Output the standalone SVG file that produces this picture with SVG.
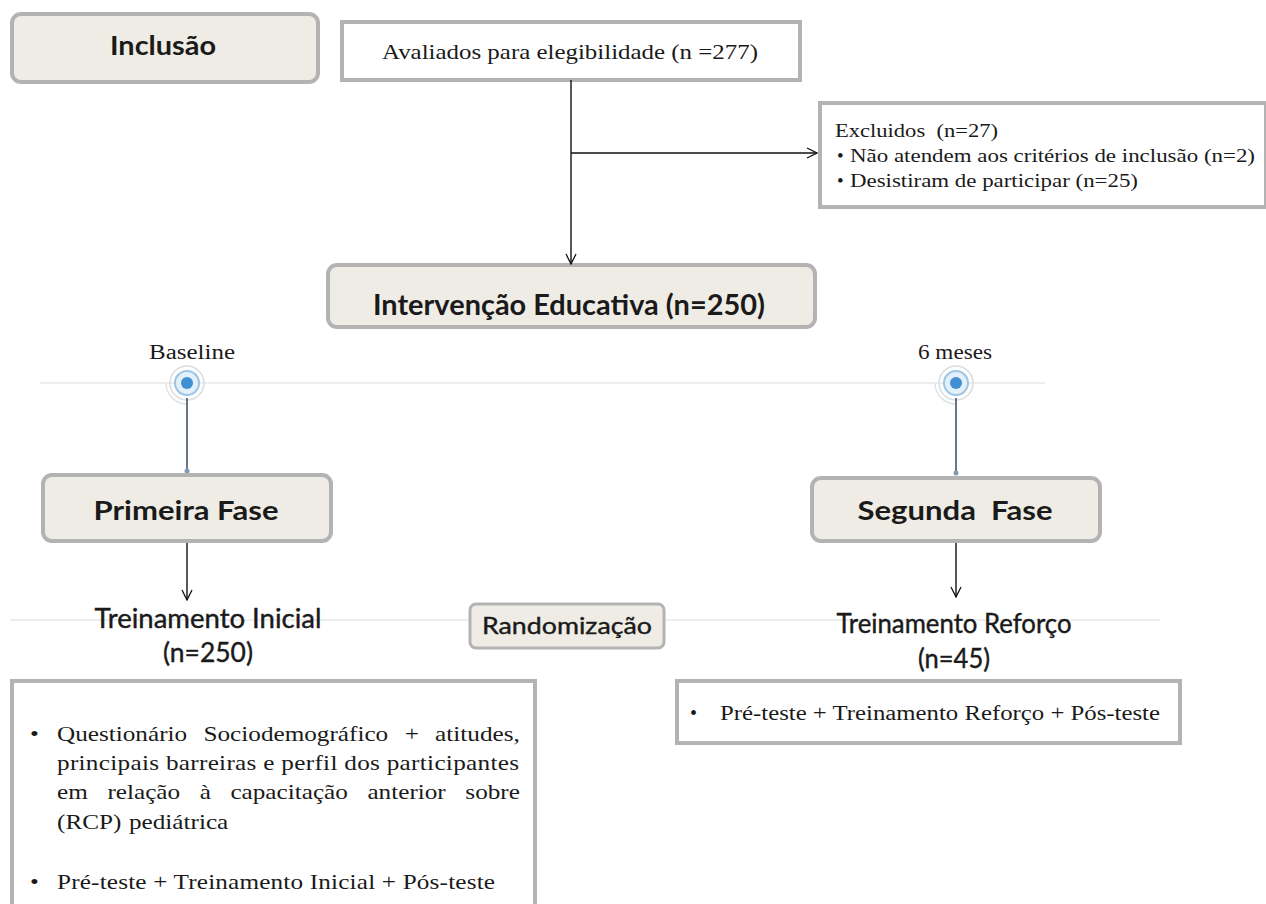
<svg xmlns="http://www.w3.org/2000/svg" width="1266" height="904" viewBox="0 0 1266 904">
<style>
.beige{fill:#eeece4;stroke:#b3b3b3;stroke-width:4}
.plain{fill:#ffffff;stroke:#b3b3b3;stroke-width:4}
.hb{font-family:Lato,"Open Sans",sans-serif;font-weight:bold;fill:#1a1a1a}
.hm{font-family:Lato,"Open Sans",sans-serif;fill:#1a1a1a;stroke:#1a1a1a;stroke-width:0.4}
.sf{font-family:"Liberation Serif","Times New Roman",serif;fill:#1a1a1a}
.conn{stroke:#111;stroke-width:1.4;fill:none}
.faint{stroke:#ededed;stroke-width:2}
.stem{stroke:#44546a;stroke-width:1.6}
</style>
<defs>
<marker id="arr" viewBox="0 0 12 12" refX="11" refY="6" markerWidth="12" markerHeight="12" markerUnits="userSpaceOnUse" orient="auto">
<path d="M1,1 L11,6 L1,11" fill="none" stroke="#111" stroke-width="1.3"/>
</marker>
</defs>
<line class="faint" x1="40" y1="383" x2="1045" y2="383"/>
<line class="faint" x1="10" y1="620" x2="1160" y2="620"/>

<g id="inclusao">
<rect class="beige" x="12" y="14" width="306" height="68" rx="9"/>
<text class="hb" x="163" y="55" font-size="26" text-anchor="middle" textLength="106" lengthAdjust="spacingAndGlyphs">Inclusão</text>
</g>
<g id="avaliados">
<rect class="plain" x="342" y="22" width="458" height="58"/>
<text class="sf" x="570" y="59" font-size="21" text-anchor="middle" textLength="376" lengthAdjust="spacingAndGlyphs">Avaliados para elegibilidade (n =277)</text>
</g>
<g id="excluidos">
<rect class="plain" x="820" y="103" width="446" height="104"/>
<text class="sf" x="835" y="137" font-size="19" textLength="163" lengthAdjust="spacingAndGlyphs" style="white-space:pre">Excluidos  (n=27)</text>
<text class="sf" x="837" y="162" font-size="19">•</text>
<text class="sf" x="850" y="162" font-size="19" textLength="405" lengthAdjust="spacingAndGlyphs">Não atendem aos critérios de inclusão (n=2)</text>
<text class="sf" x="837" y="187" font-size="19">•</text>
<text class="sf" x="850" y="187" font-size="19" textLength="288" lengthAdjust="spacingAndGlyphs">Desistiram de participar (n=25)</text>
</g>
<g id="intervencao">
<rect class="beige" x="328" y="265" width="487" height="62" rx="9"/>
<text class="hb" x="569" y="315" font-size="28" text-anchor="middle" textLength="392" lengthAdjust="spacingAndGlyphs">Intervenção Educativa (n=250)</text>
</g>

<g id="baseline">
<text class="sf" x="192" y="359" font-size="20" text-anchor="middle" textLength="86" lengthAdjust="spacingAndGlyphs">Baseline</text>
<path d="M166,383 A21,21 0 0 0 187,404" fill="none" stroke="#dde3e6" stroke-width="1.5"/>
<circle cx="187" cy="383" r="17" fill="none" stroke="#d8dde0" stroke-width="1.5"/>
<circle cx="187" cy="383" r="12" fill="#e3f0fa" stroke="#9cc4e4" stroke-width="2"/>
<circle cx="187" cy="383" r="6" fill="#3f8fd2"/>
<line class="stem" x1="187" y1="398" x2="187" y2="470"/>
<circle cx="187" cy="471" r="2.5" fill="#7f9bb5"/>
</g>
<g id="seis-meses">
<text class="sf" x="955" y="359" font-size="20" text-anchor="middle" textLength="74" lengthAdjust="spacingAndGlyphs">6 meses</text>
<path d="M935,383 A21,21 0 0 0 956,404" fill="none" stroke="#dde3e6" stroke-width="1.5"/>
<circle cx="956" cy="383" r="17" fill="none" stroke="#d8dde0" stroke-width="1.5"/>
<circle cx="956" cy="383" r="12" fill="#e3f0fa" stroke="#9cc4e4" stroke-width="2"/>
<circle cx="956" cy="383" r="6" fill="#3f8fd2"/>
<line class="stem" x1="956" y1="398" x2="956" y2="472"/>
<circle cx="956" cy="473" r="2.5" fill="#7f9bb5"/>
</g>

<g id="primeira-fase">
<rect class="beige" x="43" y="475" width="288" height="66" rx="9"/>
<text class="hb" x="186" y="520" font-size="27" text-anchor="middle" textLength="185" lengthAdjust="spacingAndGlyphs">Primeira Fase</text>
</g>
<g id="segunda-fase">
<rect class="beige" x="812" y="478" width="288" height="63" rx="9"/>
<text class="hb" x="955" y="520" font-size="27" text-anchor="middle" textLength="195" lengthAdjust="spacingAndGlyphs" style="white-space:pre">Segunda  Fase</text>
</g>

<g id="treinamento-inicial">
<text class="hm" x="208" y="628" font-size="26" text-anchor="middle" textLength="227" lengthAdjust="spacingAndGlyphs">Treinamento Inicial</text>
<text class="hm" x="208" y="662" font-size="26" text-anchor="middle" textLength="90" lengthAdjust="spacingAndGlyphs">(n=250)</text>
</g>
<g id="randomizacao">
<rect class="beige" x="470" y="604" width="194" height="44" rx="6" style="stroke-width:3"/>
<text class="hm" x="567" y="634" font-size="24" text-anchor="middle" textLength="170" lengthAdjust="spacingAndGlyphs">Randomização</text>
</g>
<g id="treinamento-reforco">
<text class="hm" x="954" y="633" font-size="26" text-anchor="middle" textLength="235" lengthAdjust="spacingAndGlyphs">Treinamento Reforço</text>
<text class="hm" x="954" y="668" font-size="26" text-anchor="middle" textLength="72" lengthAdjust="spacingAndGlyphs">(n=45)</text>
</g>

<g id="detalhes-inicial">
<rect class="plain" x="12" y="681" width="523" height="240"/>
<g transform="matrix(1.2,0,0,1,-11.4,0)">
<text class="sf" x="34.5" y="741" font-size="21">•</text>
<text class="sf" y="741" font-size="21"><tspan x="57">Questionário</tspan><tspan x="179.1">Sociodemográfico</tspan><tspan x="346.7">+</tspan><tspan x="372.1">atitudes,</tspan></text>
<text class="sf" x="57" y="770" font-size="21" textLength="385" lengthAdjust="spacing">principais barreiras e perfil dos participantes</text>
<text class="sf" y="799" font-size="21"><tspan x="57">em</tspan><tspan x="99">relação</tspan><tspan x="175.9">à</tspan><tspan x="201.5">capacitação</tspan><tspan x="315.7">anterior</tspan><tspan x="397.3">sobre</tspan></text>
<text class="sf" y="829" font-size="21"><tspan x="57">(RCP)</tspan><tspan x="117">pediátrica</tspan></text>
<text class="sf" x="34.5" y="889" font-size="21">•</text>
<text class="sf" x="57" y="889" font-size="21" textLength="365" lengthAdjust="spacing">Pré-teste + Treinamento Inicial + Pós-teste</text>
</g>
</g>
<g id="detalhes-reforco">
<rect class="plain" x="677" y="681" width="503" height="62"/>
<text class="sf" x="690" y="720" font-size="20">•</text>
<text class="sf" x="720" y="720" font-size="20" textLength="440" lengthAdjust="spacingAndGlyphs">Pré-teste + Treinamento Reforço + Pós-teste</text>
</g>

<g id="connectors">
<line class="conn" x1="571" y1="80" x2="571" y2="264" marker-end="url(#arr)"/>
<line class="conn" x1="571" y1="153" x2="817" y2="153" marker-end="url(#arr)"/>
<line class="conn" x1="187" y1="543" x2="187" y2="600" marker-end="url(#arr)"/>
<line class="conn" x1="956" y1="543" x2="956" y2="597" marker-end="url(#arr)"/>
</g>
</svg>
